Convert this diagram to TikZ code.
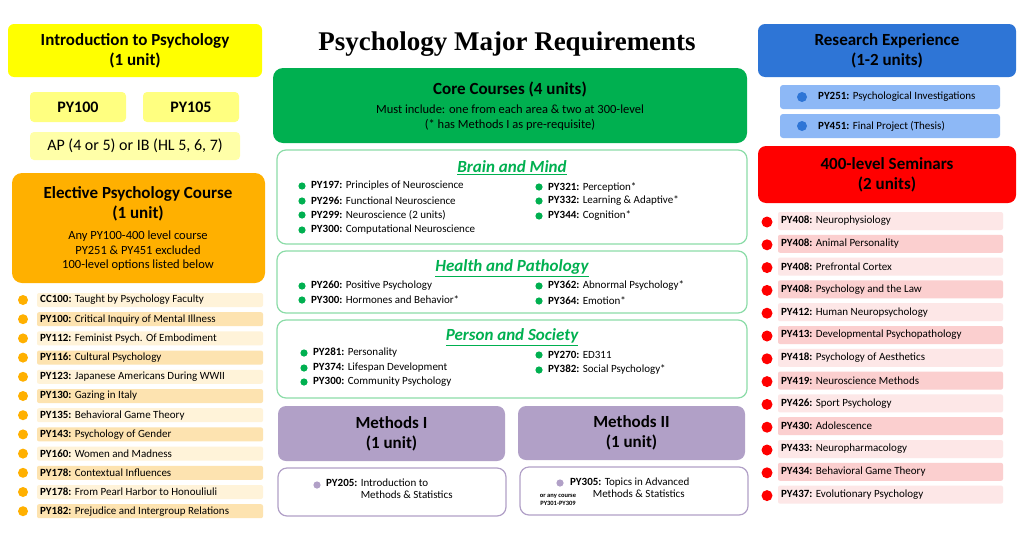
\documentclass[tikz,border=0pt]{standalone}
\usepackage{fontspec}
\setmainfont{Carlito}
\newfontfamily\titlefont{Liberation Serif}
\definecolor{yel}{HTML}{FFFF00}
\definecolor{yelL}{HTML}{FFFF80}
\definecolor{yelLL}{HTML}{FFFFA8}
\definecolor{org}{HTML}{FFB000}
\definecolor{orgA}{HTML}{FFF3D9}
\definecolor{orgB}{HTML}{FDE3B0}
\definecolor{grn}{HTML}{00B050}
\definecolor{grnL}{HTML}{8CDCA8}
\definecolor{pur}{HTML}{B1A0C7}
\definecolor{blu}{HTML}{2E75D6}
\definecolor{bluL}{HTML}{8DB8F6}
\definecolor{red0}{HTML}{FF0000}
\definecolor{redA}{HTML}{FDE7E7}
\definecolor{redB}{HTML}{FBCFCF}
\tikzset{
  x=1pt,y=-1pt,
  hdr/.style={rounded corners=7pt,font=\fontsize{17}{20}\selectfont\bfseries,align=center,inner sep=0pt},
  item/.style={anchor=west,font=\fontsize{11}{12}\selectfont,inner sep=0pt},
  sect/.style={font=\fontsize{17}{19}\selectfont\bfseries\itshape,text=grn,inner sep=1pt},
  gbox/.style={draw=grnL,line width=1.2pt,rounded corners=9pt},
  pbox/.style={draw=pur,line width=1.2pt,rounded corners=9pt},
}
\begin{document}
\begin{tikzpicture}
\path[fill=white] (0,0) rectangle (1024,541);
% title
\node (title) at (507,44) {\titlefont\fontsize{27}{30}\selectfont\bfseries Psychology Major Requirements};
% intro
\fill[yel,rounded corners=6pt] (8,24) rectangle (262,77);
\node[hdr] (intro) at (135,50.5) {Introduction to Psychology\\(1 unit)};
\fill[yelL,rounded corners=4pt] (30,92) rectangle (126,122);
\node[font=\fontsize{16}{18}\selectfont\bfseries] (p100) at (78,107) {PY100};
\fill[yelL,rounded corners=4pt] (143,92) rectangle (239,122);
\node[font=\fontsize{16}{18}\selectfont\bfseries] (p105) at (191,107) {PY105};
\fill[yelLL,rounded corners=4pt] (30,132) rectangle (240,160);
\node[font=\fontsize{16}{18}\selectfont] (ap) at (135,146) {AP (4 or 5) or IB (HL 5, 6, 7)};
% elective
\fill[org,rounded corners=10pt] (12,173) rectangle (265,283);
\node[hdr] (elec) at (138,204) {Elective Psychology Course\\(1 unit)};
\node[align=center,font=\fontsize{12.5}{14.5}\selectfont] (elecsub) at (138,251) {Any PY100-400 level course\\PY251 \& PY451 excluded\\100-level options listed below};
\foreach \i/\c/\t [count=\n from 0] in {
 CC100/CC120/Taught by Psychology Faculty,
 PY100/Critical Inquiry of Mental Illness,
 PY112/Feminist Psych. Of Embodiment,
 PY116/Cultural Psychology,
 PY123/Japanese Americans During WWII,
 PY130/Gazing in Italy,
 PY135/Behavioral Game Theory,
 PY143/Psychology of Gender,
 PY160/Women and Madness,
 PY178/Contextual Influences,
 PY178/From Pearl Harbor to Honouliuli,
 PY182/Prejudice and Intergroup Relations}{
 \pgfmathsetmacro\yy{300+19.2*\n}
 \pgfmathparse{mod(\n,2)==0?"orgA":"orgB"}\edef\bc{\pgfmathresult}
 \fill[\bc,rounded corners=2pt] (37,\yy-7) rectangle (263,\yy+7);
 \fill[org] (23,\yy) circle (5);
 \node[item] (el\n) at (40,\yy) {\textbf{\ifx\i\c\i\else\i\fi:} \t};
}
% core
\fill[grn,rounded corners=10pt] (273,68) rectangle (747,143);
\node[font=\fontsize{17}{20}\selectfont\bfseries] (core) at (510,89) {Core Courses (4 units)};
\node[align=center,font=\fontsize{12.5}{15}\selectfont] (coresub) at (510,118) {Must include: one from each area \& two at 300-level\\(* has Methods I as pre-requisite)};
% brain
\draw[gbox] (277,150) rectangle (747,244);
\node[sect] (bm) at (512,168) {\underline{Brain and Mind}};
\foreach \y/\a/\b in {186/PY197/Principles of Neuroscience,201/PY296/Functional Neuroscience,215/PY299/Neuroscience (2 units),230/PY300/Computational Neuroscience}{
 \fill[grn] (302,\y) circle (3.6); \node[item] at (311,\y) {\textbf{\a:} \b};}
\foreach \y/\a/\b in {187/PY321/Perception*,201/PY332/Learning \& Adaptive*,216/PY344/Cognition*}{
 \fill[grn] (539,\y) circle (3.6); \node[item] at (548,\y) {\textbf{\a:} \b};}
% health
\draw[gbox] (277,251) rectangle (747,313);
\node[sect] (hp) at (512,268) {\underline{Health and Pathology}};
\foreach \y/\a/\b in {286/PY260/Positive Psychology,300/PY300/Hormones and Behavior*}{
 \fill[grn] (302,\y) circle (3.6); \node[item] at (311,\y) {\textbf{\a:} \b};}
\foreach \y/\a/\b in {286/PY362/Abnormal Psychology*,301/PY364/Emotion*}{
 \fill[grn] (539,\y) circle (3.6); \node[item] at (548,\y) {\textbf{\a:} \b};}
% person
\draw[gbox] (277,320) rectangle (747,398);
\node[sect] (ps) at (512,337) {\underline{Person and Society}};
\foreach \y/\a/\b in {353/PY281/Personality,368/PY374/Lifespan Development,382/PY300/Community Psychology}{
 \fill[grn] (304,\y) circle (3.6); \node[item] at (313,\y) {\textbf{\a:} \b};}
\foreach \y/\a/\b in {355/PY270/ED311/Educational Psychology,370/PY382/Social Psychology*}{
 \fill[grn] (539,\y) circle (3.6); \node[item] at (548,\y) {\textbf{\a:} \b};}
% methods
\fill[pur,rounded corners=8pt] (278,406) rectangle (505,461);
\node[hdr] (m1) at (391.5,434) {Methods I\\(1 unit)};
\fill[pur,rounded corners=8pt] (518,406) rectangle (745,460);
\node[hdr] (m2) at (631.5,433) {Methods II\\(1 unit)};
\draw[pbox] (278,468) rectangle (506,516);
\fill[pur] (317,485) circle (3.6);
\node[item,anchor=north west,align=left] (m1t) at (326,479) {\textbf{PY205:} Introduction to\\\hphantom{\textbf{PY205:} }Methods \& Statistics};
\draw[pbox] (520,467) rectangle (748,515);
\fill[pur] (560,483) circle (3.6);
\node[item,anchor=north west,align=left] (m2t) at (570,478) {\textbf{PY305:} Topics in Advanced\\\hphantom{\textbf{PY30}}Methods \& Statistics};
\node[font=\fontsize{6.5}{7.5}\selectfont\bfseries,align=center,inner sep=0pt] (any) at (558,500) {or any course\\PY301-PY309};
% research
\fill[blu,rounded corners=7pt] (758,24) rectangle (1016,77);
\node[hdr] (res) at (887,50.5) {Research Experience\\(1-2 units)};
\fill[bluL,rounded corners=3pt] (780,85) rectangle (1000,109);
\fill[blu] (802,97) circle (5);
\node[item] at (818,97) {\textbf{PY251:} Psychological Investigations};
\fill[bluL,rounded corners=3pt] (780,114) rectangle (1000,138);
\fill[blu] (802,126) circle (5);
\node[item] at (818,126) {\textbf{PY451:} Final Project (Thesis)};
% seminars
\fill[red0,rounded corners=8pt] (758,146) rectangle (1016,203);
\node[hdr] (sem) at (887,175) {400-level Seminars\\(2 units)};
\foreach \a/\b [count=\n from 0] in {PY408/Neurophysiology,PY408/Animal Personality,PY408/Prefrontal Cortex,PY408/Psychology and the Law,PY412/Human Neuropsychology,PY413/Developmental Psychopathology,PY418/Psychology of Aesthetics,PY419/Neuroscience Methods,PY426/Sport Psychology,PY430/Adolescence,PY433/Neuropharmacology,PY434/Behavioral Game Theory,PY437/Evolutionary Psychology}{
 \pgfmathsetmacro\yy{221+22.8*\n}
 \pgfmathparse{mod(\n,2)==0?"redA":"redB"}\edef\bc{\pgfmathresult}
 \fill[\bc,rounded corners=2pt] (778,\yy-9) rectangle (1003,\yy+9);
 \fill[red0] (767,\yy+1) circle (5.5);
 \node[item] (s\n) at (781,\yy) {\textbf{\a:} \b};
}
\end{tikzpicture}
\end{document}
